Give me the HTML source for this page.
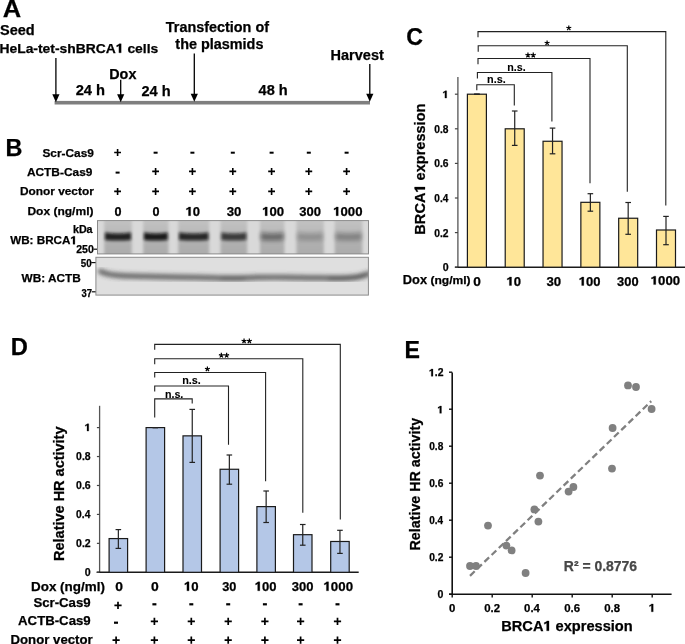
<!DOCTYPE html>
<html><head><meta charset="utf-8"><style>
html,body{margin:0;padding:0;background:#fff;}
body{width:685px;height:644px;overflow:hidden;}
svg{display:block;will-change:transform;font-family:"Liberation Sans",sans-serif;}
text{stroke-width:0.25px;}
</style></head><body>
<svg width="685" height="644" viewBox="0 0 685 644">
<rect width="685" height="644" fill="#fff"/>
<text x="2.86" y="16.80" font-size="24" font-weight="bold" fill="#000" stroke="#000" textLength="18.43" lengthAdjust="spacingAndGlyphs">A</text>
<text x="-0.04" y="35.00" font-size="14" font-weight="bold" fill="#000" stroke="#000" textLength="34.68" lengthAdjust="spacingAndGlyphs">Seed</text>
<text x="-0.60" y="52.80" font-size="13.1" font-weight="bold" fill="#000" stroke="#000" textLength="116.45" lengthAdjust="spacingAndGlyphs">HeLa-tet-shBRCA</text>
<path transform="translate(115.85,52.80) scale(0.00678,-0.00640)" d="M450,0 L785,0 L785,1409 L505,1409 C400,1290 260,1210 120,1165 L120,925 C250,965 360,1030 450,1110 Z" fill="#000" stroke="#000" stroke-width="39.1"/>
<text x="127.42" y="52.80" font-size="13.1" font-weight="bold" fill="#000" stroke="#000" textLength="30.87" lengthAdjust="spacingAndGlyphs">cells</text>
<text x="165.86" y="31.70" font-size="14" font-weight="bold" fill="#000" stroke="#000" textLength="103.11" lengthAdjust="spacingAndGlyphs">Transfection of</text>
<text x="175.36" y="49.00" font-size="14" font-weight="bold" fill="#000" stroke="#000" textLength="88.06" lengthAdjust="spacingAndGlyphs">the plasmids</text>
<text x="330.56" y="60.10" font-size="14" font-weight="bold" fill="#000" stroke="#000" textLength="53.25" lengthAdjust="spacingAndGlyphs">Harvest</text>
<text x="109.27" y="78.70" font-size="14" font-weight="bold" fill="#000" stroke="#000" textLength="27.09" lengthAdjust="spacingAndGlyphs">Dox</text>
<text x="75.69" y="94.80" font-size="14" font-weight="bold" fill="#000" stroke="#000" textLength="29.41" lengthAdjust="spacingAndGlyphs">24 h</text>
<text x="141.49" y="95.50" font-size="14" font-weight="bold" fill="#000" stroke="#000" textLength="29.10" lengthAdjust="spacingAndGlyphs">24 h</text>
<text x="258.58" y="94.90" font-size="14" font-weight="bold" fill="#000" stroke="#000" textLength="29.11" lengthAdjust="spacingAndGlyphs">48 h</text>
<rect x="54.6" y="100.9" width="315.4" height="3.6" fill="#7f7f7f"/>
<line x1="55.90" y1="58.00" x2="55.90" y2="96.30" stroke="#000" stroke-width="1.3"/>
<path d="M52.30,94.30 L59.50,94.30 L55.90,102.30 Z" fill="#000"/>
<line x1="120.70" y1="79.70" x2="120.70" y2="96.30" stroke="#000" stroke-width="1.3"/>
<path d="M117.10,94.30 L124.30,94.30 L120.70,102.30 Z" fill="#000"/>
<line x1="194.30" y1="53.40" x2="194.30" y2="95.80" stroke="#000" stroke-width="1.3"/>
<path d="M190.70,93.80 L197.90,93.80 L194.30,101.80 Z" fill="#000"/>
<line x1="369.80" y1="64.10" x2="369.80" y2="95.80" stroke="#000" stroke-width="1.3"/>
<path d="M366.20,93.80 L373.40,93.80 L369.80,101.80 Z" fill="#000"/>
<text x="5.48" y="156.00" font-size="24" font-weight="bold" fill="#000" stroke="#000" textLength="16.93" lengthAdjust="spacingAndGlyphs">B</text>
<text x="42.44" y="157.00" font-size="11.8" font-weight="bold" fill="#000" stroke="#000" textLength="51.48" lengthAdjust="spacingAndGlyphs">Scr-Cas9</text>
<text x="26.90" y="176.10" font-size="11.8" font-weight="bold" fill="#000" stroke="#000" textLength="65.53" lengthAdjust="spacingAndGlyphs">ACTB-Cas9</text>
<text x="19.93" y="194.90" font-size="11.8" font-weight="bold" fill="#000" stroke="#000" textLength="73.83" lengthAdjust="spacingAndGlyphs">Donor vector</text>
<text x="27.42" y="215.30" font-size="11.8" font-weight="bold" fill="#000" stroke="#000" textLength="66.08" lengthAdjust="spacingAndGlyphs">Dox (ng/ml)</text>
<path d="M114.20,151.70h6.80v1.60h-6.80Z M116.80,149.00h1.60v7.00h-1.60Z" fill="#000"/>
<rect x="153.60" y="151.70" width="4.00" height="2.00" fill="#000"/>
<rect x="190.40" y="151.70" width="4.00" height="2.00" fill="#000"/>
<rect x="230.80" y="151.70" width="4.00" height="2.00" fill="#000"/>
<rect x="269.60" y="151.70" width="4.00" height="2.00" fill="#000"/>
<rect x="306.80" y="151.70" width="4.00" height="2.00" fill="#000"/>
<rect x="344.60" y="151.70" width="4.00" height="2.00" fill="#000"/>
<rect x="115.60" y="171.60" width="4.00" height="2.00" fill="#000"/>
<path d="M152.20,170.60h6.80v1.60h-6.80Z M154.80,167.90h1.60v7.00h-1.60Z" fill="#000"/>
<path d="M189.00,170.60h6.80v1.60h-6.80Z M191.60,167.90h1.60v7.00h-1.60Z" fill="#000"/>
<path d="M229.40,170.60h6.80v1.60h-6.80Z M232.00,167.90h1.60v7.00h-1.60Z" fill="#000"/>
<path d="M268.20,170.60h6.80v1.60h-6.80Z M270.80,167.90h1.60v7.00h-1.60Z" fill="#000"/>
<path d="M305.40,170.60h6.80v1.60h-6.80Z M308.00,167.90h1.60v7.00h-1.60Z" fill="#000"/>
<path d="M343.20,170.60h6.80v1.60h-6.80Z M345.80,167.90h1.60v7.00h-1.60Z" fill="#000"/>
<path d="M114.20,190.60h6.80v1.60h-6.80Z M116.80,187.90h1.60v7.00h-1.60Z" fill="#000"/>
<path d="M152.20,190.60h6.80v1.60h-6.80Z M154.80,187.90h1.60v7.00h-1.60Z" fill="#000"/>
<path d="M189.00,190.60h6.80v1.60h-6.80Z M191.60,187.90h1.60v7.00h-1.60Z" fill="#000"/>
<path d="M229.40,190.60h6.80v1.60h-6.80Z M232.00,187.90h1.60v7.00h-1.60Z" fill="#000"/>
<path d="M268.20,190.60h6.80v1.60h-6.80Z M270.80,187.90h1.60v7.00h-1.60Z" fill="#000"/>
<path d="M305.40,190.60h6.80v1.60h-6.80Z M308.00,187.90h1.60v7.00h-1.60Z" fill="#000"/>
<path d="M343.20,190.60h6.80v1.60h-6.80Z M345.80,187.90h1.60v7.00h-1.60Z" fill="#000"/>
<text x="114.49" y="215.70" font-size="12.6" font-weight="bold" fill="#000" stroke="#000" textLength="7.03" lengthAdjust="spacingAndGlyphs">0</text>
<text x="152.49" y="215.70" font-size="12.6" font-weight="bold" fill="#000" stroke="#000" textLength="7.03" lengthAdjust="spacingAndGlyphs">0</text>
<path transform="translate(185.62,215.70) scale(0.00638,-0.00615)" d="M450,0 L785,0 L785,1409 L505,1409 C400,1290 260,1210 120,1165 L120,925 C250,965 360,1030 450,1110 Z" fill="#000" stroke="#000" stroke-width="40.6"/>
<text x="192.88" y="215.70" font-size="12.6" font-weight="bold" fill="#000" stroke="#000" textLength="7.27" lengthAdjust="spacingAndGlyphs">0</text>
<text x="226.67" y="215.70" font-size="12.6" font-weight="bold" fill="#000" stroke="#000" textLength="14.69" lengthAdjust="spacingAndGlyphs">30</text>
<path transform="translate(262.21,215.70) scale(0.00643,-0.00615)" d="M450,0 L785,0 L785,1409 L505,1409 C400,1290 260,1210 120,1165 L120,925 C250,965 360,1030 450,1110 Z" fill="#000" stroke="#000" stroke-width="40.6"/>
<text x="269.53" y="215.70" font-size="12.6" font-weight="bold" fill="#000" stroke="#000" textLength="14.64" lengthAdjust="spacingAndGlyphs">00</text>
<text x="299.28" y="215.70" font-size="12.6" font-weight="bold" fill="#000" stroke="#000" textLength="21.69" lengthAdjust="spacingAndGlyphs">300</text>
<path transform="translate(333.21,215.70) scale(0.00643,-0.00615)" d="M450,0 L785,0 L785,1409 L505,1409 C400,1290 260,1210 120,1165 L120,925 C250,965 360,1030 450,1110 Z" fill="#000" stroke="#000" stroke-width="40.6"/>
<text x="340.54" y="215.70" font-size="12.6" font-weight="bold" fill="#000" stroke="#000" textLength="21.99" lengthAdjust="spacingAndGlyphs">000</text>
<text x="72.95" y="233.00" font-size="10.0" font-weight="bold" fill="#000" stroke="#000" textLength="19.64" lengthAdjust="spacingAndGlyphs">kDa</text>
<text x="10.20" y="244.30" font-size="11.8" font-weight="bold" fill="#000" stroke="#000" textLength="60.23" lengthAdjust="spacingAndGlyphs">WB: BRCA</text>
<path transform="translate(70.43,244.30) scale(0.00569,-0.00576)" d="M450,0 L785,0 L785,1409 L505,1409 C400,1290 260,1210 120,1165 L120,925 C250,965 360,1030 450,1110 Z" fill="#000" stroke="#000" stroke-width="43.4"/>
<text x="76.23" y="252.80" font-size="10.6" font-weight="bold" fill="#000" stroke="#000" textLength="17.63" lengthAdjust="spacingAndGlyphs">250</text>
<text x="80.71" y="267.40" font-size="10.6" font-weight="bold" fill="#000" stroke="#000" textLength="10.91" lengthAdjust="spacingAndGlyphs">50</text>
<text x="21.60" y="282.00" font-size="11.8" font-weight="bold" fill="#000" stroke="#000" textLength="59.26" lengthAdjust="spacingAndGlyphs">WB: ACTB</text>
<text x="81.56" y="296.50" font-size="10.6" font-weight="bold" fill="#000" stroke="#000" textLength="10.54" lengthAdjust="spacingAndGlyphs">37</text>
<line x1="93.40" y1="249.20" x2="97.50" y2="249.20" stroke="#111" stroke-width="1.2"/>
<line x1="91.20" y1="262.60" x2="96.00" y2="262.60" stroke="#111" stroke-width="1.2"/>
<line x1="91.70" y1="291.80" x2="96.00" y2="291.80" stroke="#111" stroke-width="1.2"/>
<defs>
<filter id="bl1" x="-20%" y="-50%" width="140%" height="200%"><feGaussianBlur stdDeviation="1.4 1.7"/></filter>
<filter id="bl2" x="-20%" y="-50%" width="140%" height="200%"><feGaussianBlur stdDeviation="1.2"/></filter>
<filter id="bl5" x="-30%" y="-80%" width="160%" height="260%"><feGaussianBlur stdDeviation="2.2 2.2"/></filter>
<filter id="bl3" x="-10%" y="-10%" width="120%" height="120%"><feGaussianBlur stdDeviation="1.8"/></filter>
<filter id="bl4" x="-10%" y="-50%" width="120%" height="200%"><feGaussianBlur stdDeviation="2.0 1.9"/></filter>
<linearGradient id="lane" x1="0" y1="0" x2="0" y2="1">
 <stop offset="0" stop-color="#c4c4c4"/><stop offset="0.35" stop-color="#b9b9b9"/><stop offset="0.6" stop-color="#b0b0b0"/><stop offset="1" stop-color="#aaaaaa"/>
</linearGradient>
<clipPath id="cb1"><rect x="97.5" y="220.6" width="271" height="33.3"/></clipPath>
<clipPath id="cb2"><rect x="95.9" y="257.3" width="272.5" height="37.8"/></clipPath>
</defs>
<g clip-path="url(#cb1)">
<rect x="97.5" y="220.6" width="271" height="33.3" fill="#d9d9d9"/>
<g filter="url(#bl3)">
<rect x="104.2" y="218" width="27.6" height="40" fill="url(#lane)"/>
<rect x="143.2" y="218" width="25.3" height="40" fill="url(#lane)"/>
<rect x="178.2" y="218" width="31.0" height="40" fill="url(#lane)"/>
<rect x="220.5" y="218" width="26.7" height="40" fill="url(#lane)"/>
<rect x="260.0" y="218" width="24.4" height="40" fill="url(#lane)"/>
<rect x="296.4" y="218" width="27.4" height="40" fill="url(#lane)"/>
<rect x="334.7" y="218" width="27.7" height="40" fill="url(#lane)"/>
</g>
<path filter="url(#bl1)" d="M105.0,232.4 Q118.0,234.6 131.0,232.4 L131.0,240.0 Q118.0,241.2 105.0,240.0 Z" fill="#0a0a0a" opacity="0.88"/>
<path filter="url(#bl1)" d="M144.0,232.4 Q155.8,234.6 167.7,232.4 L167.7,240.0 Q155.8,241.2 144.0,240.0 Z" fill="#0a0a0a" opacity="0.92"/>
<path filter="url(#bl1)" d="M179.0,232.4 Q193.7,234.6 208.4,232.4 L208.4,240.0 Q193.7,241.2 179.0,240.0 Z" fill="#0a0a0a" opacity="0.84"/>
<path filter="url(#bl1)" d="M221.3,232.4 Q233.8,234.6 246.4,232.4 L246.4,240.0 Q233.8,241.2 221.3,240.0 Z" fill="#0a0a0a" opacity="0.72"/>
<path filter="url(#bl5)" d="M260.8,232.4 Q272.2,234.6 283.6,232.4 L283.6,240.0 Q272.2,241.2 260.8,240.0 Z" fill="#0a0a0a" opacity="0.46"/>
<path filter="url(#bl5)" d="M297.2,232.4 Q310.1,234.6 323.0,232.4 L323.0,240.0 Q310.1,241.2 297.2,240.0 Z" fill="#0a0a0a" opacity="0.22"/>
<path filter="url(#bl5)" d="M335.5,232.4 Q348.5,234.6 361.6,232.4 L361.6,240.0 Q348.5,241.2 335.5,240.0 Z" fill="#0a0a0a" opacity="0.3"/>
</g>
<rect x="97.5" y="220.6" width="271" height="33.3" fill="none" stroke="#8a8a8a" stroke-width="1"/>
<g clip-path="url(#cb2)">
<rect x="95.9" y="257.3" width="272.5" height="37.8" fill="#dfdfdf"/>
<g filter="url(#bl4)">
<path d="M100.5,271.4 C101.58,271.80 104.08,273.13 107,273.8 C109.92,274.47 113.33,275.00 118,275.4 C122.67,275.80 128.83,276.00 135,276.2 C141.17,276.40 147.83,276.43 155,276.6 C162.17,276.77 169.67,277.03 178,277.2 C186.33,277.37 196.00,277.43 205,277.6 C214.00,277.77 223.17,278.23 232,278.2 C240.83,278.17 249.17,277.55 258,277.4 C266.83,277.25 276.00,277.23 285,277.3 C294.00,277.37 302.83,277.65 312,277.8 C321.17,277.95 332.67,278.30 340,278.2 C347.33,278.10 352.17,277.63 356,277.2 C359.83,276.77 360.83,276.20 363,275.6 C365.17,275.00 368.00,273.93 369,273.6" fill="none" stroke="#383838" stroke-width="5.2" stroke-linecap="round" opacity="0.74"/>
<path d="M222,278.2 C223.67,278.23 228.33,278.42 232,278.4 C235.67,278.38 242.00,278.15 244,278.1" fill="none" stroke="#333" stroke-width="3.5" stroke-linecap="round" opacity="0.35"/>
<path d="M330,278.3 C332.00,278.32 337.67,278.57 342,278.4 C346.33,278.23 352.33,277.83 356,277.3 C359.67,276.77 362.67,275.55 364,275.2" fill="none" stroke="#333" stroke-width="3.8" stroke-linecap="round" opacity="0.45"/>
</g>
</g>
<rect x="95.9" y="257.3" width="272.5" height="37.8" fill="none" stroke="#8a8a8a" stroke-width="1"/>
<text x="406.37" y="44.50" font-size="24.5" font-weight="bold" fill="#000" stroke="#000" textLength="16.76" lengthAdjust="spacingAndGlyphs">C</text>
<line x1="457.90" y1="77.00" x2="457.90" y2="267.20" stroke="#555" stroke-width="1.3"/>
<line x1="454.90" y1="267.20" x2="685.00" y2="267.20" stroke="#1a1a1a" stroke-width="1.4"/>
<line x1="454.90" y1="267.20" x2="457.90" y2="267.20" stroke="#444" stroke-width="1.2"/>
<text x="442.74" y="271.10" font-size="10.6" font-weight="bold" fill="#000" stroke="#000" textLength="5.90" lengthAdjust="spacingAndGlyphs">0</text>
<line x1="454.90" y1="232.60" x2="457.90" y2="232.60" stroke="#444" stroke-width="1.2"/>
<text x="434.29" y="236.50" font-size="10.6" font-weight="bold" fill="#000" stroke="#000" textLength="14.33" lengthAdjust="spacingAndGlyphs">0.2</text>
<line x1="454.90" y1="198.00" x2="457.90" y2="198.00" stroke="#444" stroke-width="1.2"/>
<text x="434.30" y="201.90" font-size="10.6" font-weight="bold" fill="#000" stroke="#000" textLength="13.95" lengthAdjust="spacingAndGlyphs">0.4</text>
<line x1="454.90" y1="163.40" x2="457.90" y2="163.40" stroke="#444" stroke-width="1.2"/>
<text x="434.29" y="167.30" font-size="10.6" font-weight="bold" fill="#000" stroke="#000" textLength="14.27" lengthAdjust="spacingAndGlyphs">0.6</text>
<line x1="454.90" y1="128.80" x2="457.90" y2="128.80" stroke="#444" stroke-width="1.2"/>
<text x="434.29" y="132.70" font-size="10.6" font-weight="bold" fill="#000" stroke="#000" textLength="14.22" lengthAdjust="spacingAndGlyphs">0.8</text>
<line x1="454.90" y1="94.20" x2="457.90" y2="94.20" stroke="#444" stroke-width="1.2"/>
<path transform="translate(442.58,98.10) scale(0.00518,-0.00518)" d="M450,0 L785,0 L785,1409 L505,1409 C400,1290 260,1210 120,1165 L120,925 C250,965 360,1030 450,1110 Z" fill="#000" stroke="#000" stroke-width="48.3"/>
<g transform="translate(425.00,233.70) rotate(-90)">
<text x="-0.95" y="0.00" font-size="15.2" font-weight="bold" fill="#000" stroke="#000" textLength="42.05" lengthAdjust="spacingAndGlyphs">BRCA</text>
<path transform="translate(41.11,0.00) scale(0.00711,-0.00742)" d="M450,0 L785,0 L785,1409 L505,1409 C400,1290 260,1210 120,1165 L120,925 C250,965 360,1030 450,1110 Z" fill="#000" stroke="#000" stroke-width="33.7"/>
<text x="53.25" y="0.00" font-size="15.2" font-weight="bold" fill="#000" stroke="#000" textLength="76.87" lengthAdjust="spacingAndGlyphs">expression</text>
</g>
<text x="402.76" y="284.00" font-size="12.5" font-weight="bold" fill="#000" stroke="#000" textLength="24.29" lengthAdjust="spacingAndGlyphs">Dox</text>
<text x="430.40" y="284.00" font-size="11.7" font-weight="bold" fill="#000" stroke="#000" textLength="40.18" lengthAdjust="spacingAndGlyphs">(ng/ml)</text>
<rect x="467.40" y="94.20" width="19.0" height="173.00" fill="#ffe699" stroke="#1a1a1a" stroke-width="1.2"/>
<rect x="505.22" y="128.80" width="19.0" height="138.40" fill="#ffe699" stroke="#1a1a1a" stroke-width="1.2"/>
<rect x="543.04" y="141.26" width="19.0" height="125.94" fill="#ffe699" stroke="#1a1a1a" stroke-width="1.2"/>
<rect x="580.86" y="202.32" width="19.0" height="64.88" fill="#ffe699" stroke="#1a1a1a" stroke-width="1.2"/>
<rect x="618.68" y="218.24" width="19.0" height="48.96" fill="#ffe699" stroke="#1a1a1a" stroke-width="1.2"/>
<rect x="656.50" y="230.00" width="19.0" height="37.19" fill="#ffe699" stroke="#1a1a1a" stroke-width="1.2"/>
<line x1="476.90" y1="94.20" x2="476.90" y2="94.20" stroke="#222" stroke-width="1.2"/>
<line x1="474.10" y1="94.20" x2="479.70" y2="94.20" stroke="#222" stroke-width="1.2"/>
<line x1="474.10" y1="94.20" x2="479.70" y2="94.20" stroke="#222" stroke-width="1.2"/>
<line x1="514.72" y1="111.00" x2="514.72" y2="145.40" stroke="#222" stroke-width="1.2"/>
<line x1="511.92" y1="111.00" x2="517.52" y2="111.00" stroke="#222" stroke-width="1.2"/>
<line x1="511.92" y1="145.40" x2="517.52" y2="145.40" stroke="#222" stroke-width="1.2"/>
<line x1="552.54" y1="128.10" x2="552.54" y2="153.80" stroke="#222" stroke-width="1.2"/>
<line x1="549.74" y1="128.10" x2="555.34" y2="128.10" stroke="#222" stroke-width="1.2"/>
<line x1="549.74" y1="153.80" x2="555.34" y2="153.80" stroke="#222" stroke-width="1.2"/>
<line x1="590.36" y1="193.70" x2="590.36" y2="211.20" stroke="#222" stroke-width="1.2"/>
<line x1="587.56" y1="193.70" x2="593.16" y2="193.70" stroke="#222" stroke-width="1.2"/>
<line x1="587.56" y1="211.20" x2="593.16" y2="211.20" stroke="#222" stroke-width="1.2"/>
<line x1="628.18" y1="202.50" x2="628.18" y2="234.30" stroke="#222" stroke-width="1.2"/>
<line x1="625.38" y1="202.50" x2="630.98" y2="202.50" stroke="#222" stroke-width="1.2"/>
<line x1="625.38" y1="234.30" x2="630.98" y2="234.30" stroke="#222" stroke-width="1.2"/>
<line x1="666.00" y1="216.40" x2="666.00" y2="244.70" stroke="#222" stroke-width="1.2"/>
<line x1="663.20" y1="216.40" x2="668.80" y2="216.40" stroke="#222" stroke-width="1.2"/>
<line x1="663.20" y1="244.70" x2="668.80" y2="244.70" stroke="#222" stroke-width="1.2"/>
<text x="473.25" y="285.50" font-size="12.3" font-weight="bold" fill="#000" stroke="#000" textLength="7.61" lengthAdjust="spacingAndGlyphs">0</text>
<path transform="translate(506.52,285.50) scale(0.00638,-0.00601)" d="M450,0 L785,0 L785,1409 L505,1409 C400,1290 260,1210 120,1165 L120,925 C250,965 360,1030 450,1110 Z" fill="#000" stroke="#000" stroke-width="41.6"/>
<text x="513.78" y="285.50" font-size="12.3" font-weight="bold" fill="#000" stroke="#000" textLength="7.27" lengthAdjust="spacingAndGlyphs">0</text>
<text x="546.47" y="285.50" font-size="12.3" font-weight="bold" fill="#000" stroke="#000" textLength="14.69" lengthAdjust="spacingAndGlyphs">30</text>
<path transform="translate(578.82,285.50) scale(0.00636,-0.00601)" d="M450,0 L785,0 L785,1409 L505,1409 C400,1290 260,1210 120,1165 L120,925 C250,965 360,1030 450,1110 Z" fill="#000" stroke="#000" stroke-width="41.6"/>
<text x="586.07" y="285.50" font-size="12.3" font-weight="bold" fill="#000" stroke="#000" textLength="14.50" lengthAdjust="spacingAndGlyphs">00</text>
<text x="617.08" y="285.50" font-size="12.3" font-weight="bold" fill="#000" stroke="#000" textLength="21.48" lengthAdjust="spacingAndGlyphs">300</text>
<path transform="translate(650.71,284.60) scale(0.00646,-0.00601)" d="M450,0 L785,0 L785,1409 L505,1409 C400,1290 260,1210 120,1165 L120,925 C250,965 360,1030 450,1110 Z" fill="#000" stroke="#000" stroke-width="41.6"/>
<text x="658.06" y="284.60" font-size="12.3" font-weight="bold" fill="#000" stroke="#000" textLength="22.06" lengthAdjust="spacingAndGlyphs">000</text>
<path d="M478.00,37.30 L478.00,31.60 L665.80,31.60 L665.80,205.50" stroke="#222" stroke-width="1.1" fill="none"/>
<path d="M478.20,51.80 L478.20,45.70 L627.30,45.70 L627.30,191.80" stroke="#222" stroke-width="1.1" fill="none"/>
<path d="M478.00,64.20 L478.00,58.50 L590.00,58.50 L590.00,183.20" stroke="#222" stroke-width="1.1" fill="none"/>
<path d="M477.40,78.60 L477.40,72.50 L551.90,72.50 L551.90,121.60" stroke="#222" stroke-width="1.1" fill="none"/>
<path d="M476.80,90.30 L476.80,84.70 L514.30,84.70 L514.30,105.60" stroke="#222" stroke-width="1.1" fill="none"/>
<path d="M568.80,28.00L568.80,25.40M568.80,28.00L571.27,27.20M568.80,28.00L570.33,30.10M568.80,28.00L567.27,30.10M568.80,28.00L566.33,27.20" stroke="#000" stroke-width="1.2" stroke-linecap="butt" fill="none"/>
<path d="M547.10,43.00L547.10,40.40M547.10,43.00L549.57,42.20M547.10,43.00L548.63,45.10M547.10,43.00L545.57,45.10M547.10,43.00L544.63,42.20" stroke="#000" stroke-width="1.2" stroke-linecap="butt" fill="none"/>
<path d="M527.95,55.20L527.95,52.60M527.95,55.20L530.42,54.40M527.95,55.20L529.48,57.30M527.95,55.20L526.42,57.30M527.95,55.20L525.48,54.40" stroke="#000" stroke-width="1.2" stroke-linecap="butt" fill="none"/>
<path d="M533.25,55.20L533.25,52.60M533.25,55.20L535.72,54.40M533.25,55.20L534.78,57.30M533.25,55.20L531.72,57.30M533.25,55.20L530.78,54.40" stroke="#000" stroke-width="1.2" stroke-linecap="butt" fill="none"/>
<text x="507.31" y="71.30" font-size="10.0" font-weight="bold" fill="#000" stroke="#000" textLength="18.42" lengthAdjust="spacingAndGlyphs" style="stroke-width:0.1px">n.s.</text>
<text x="486.99" y="82.70" font-size="10.0" font-weight="bold" fill="#000" stroke="#000" textLength="18.74" lengthAdjust="spacingAndGlyphs" style="stroke-width:0.1px">n.s.</text>
<text x="10.86" y="355.00" font-size="23.5" font-weight="bold" fill="#000" stroke="#000" textLength="17.14" lengthAdjust="spacingAndGlyphs">D</text>
<line x1="99.60" y1="405.80" x2="99.60" y2="572.30" stroke="#555" stroke-width="1.3"/>
<line x1="96.60" y1="572.30" x2="358.70" y2="572.30" stroke="#1a1a1a" stroke-width="1.4"/>
<line x1="96.90" y1="572.30" x2="99.60" y2="572.30" stroke="#444" stroke-width="1.2"/>
<text x="84.84" y="575.80" font-size="10.6" font-weight="bold" fill="#000" stroke="#000" textLength="5.90" lengthAdjust="spacingAndGlyphs">0</text>
<line x1="96.90" y1="543.36" x2="99.60" y2="543.36" stroke="#444" stroke-width="1.2"/>
<text x="76.08" y="546.86" font-size="10.6" font-weight="bold" fill="#000" stroke="#000" textLength="14.64" lengthAdjust="spacingAndGlyphs">0.2</text>
<line x1="96.90" y1="514.42" x2="99.60" y2="514.42" stroke="#444" stroke-width="1.2"/>
<text x="76.09" y="517.92" font-size="10.6" font-weight="bold" fill="#000" stroke="#000" textLength="14.26" lengthAdjust="spacingAndGlyphs">0.4</text>
<line x1="96.90" y1="485.48" x2="99.60" y2="485.48" stroke="#444" stroke-width="1.2"/>
<text x="76.08" y="488.98" font-size="10.6" font-weight="bold" fill="#000" stroke="#000" textLength="14.59" lengthAdjust="spacingAndGlyphs">0.6</text>
<line x1="96.90" y1="456.54" x2="99.60" y2="456.54" stroke="#444" stroke-width="1.2"/>
<text x="76.08" y="460.04" font-size="10.6" font-weight="bold" fill="#000" stroke="#000" textLength="14.53" lengthAdjust="spacingAndGlyphs">0.8</text>
<line x1="96.90" y1="427.60" x2="99.60" y2="427.60" stroke="#444" stroke-width="1.2"/>
<path transform="translate(84.68,431.10) scale(0.00518,-0.00518)" d="M450,0 L785,0 L785,1409 L505,1409 C400,1290 260,1210 120,1165 L120,925 C250,965 360,1030 450,1110 Z" fill="#000" stroke="#000" stroke-width="48.3"/>
<g transform="translate(64.30,560.00) rotate(-90)">
<text x="-0.94" y="0.00" font-size="14.4" font-weight="bold" fill="#000" stroke="#000" textLength="134.44" lengthAdjust="spacingAndGlyphs">Relative HR activity</text>
</g>
<rect x="109.10" y="538.58" width="18.5" height="33.72" fill="#b4c7e7" stroke="#1a1a1a" stroke-width="1.2"/>
<rect x="146.10" y="427.60" width="18.5" height="144.70" fill="#b4c7e7" stroke="#1a1a1a" stroke-width="1.2"/>
<rect x="183.00" y="435.85" width="18.5" height="136.45" fill="#b4c7e7" stroke="#1a1a1a" stroke-width="1.2"/>
<rect x="220.10" y="469.27" width="18.5" height="103.03" fill="#b4c7e7" stroke="#1a1a1a" stroke-width="1.2"/>
<rect x="256.90" y="506.61" width="18.5" height="65.69" fill="#b4c7e7" stroke="#1a1a1a" stroke-width="1.2"/>
<rect x="293.50" y="534.68" width="18.5" height="37.62" fill="#b4c7e7" stroke="#1a1a1a" stroke-width="1.2"/>
<rect x="330.70" y="541.48" width="18.5" height="30.82" fill="#b4c7e7" stroke="#1a1a1a" stroke-width="1.2"/>
<line x1="118.35" y1="529.60" x2="118.35" y2="548.40" stroke="#222" stroke-width="1.2"/>
<line x1="115.55" y1="529.60" x2="121.15" y2="529.60" stroke="#222" stroke-width="1.2"/>
<line x1="115.55" y1="548.40" x2="121.15" y2="548.40" stroke="#222" stroke-width="1.2"/>
<line x1="155.35" y1="427.60" x2="155.35" y2="427.60" stroke="#222" stroke-width="1.2"/>
<line x1="152.55" y1="427.60" x2="158.15" y2="427.60" stroke="#222" stroke-width="1.2"/>
<line x1="152.55" y1="427.60" x2="158.15" y2="427.60" stroke="#222" stroke-width="1.2"/>
<line x1="192.25" y1="409.40" x2="192.25" y2="462.40" stroke="#222" stroke-width="1.2"/>
<line x1="189.45" y1="409.40" x2="195.05" y2="409.40" stroke="#222" stroke-width="1.2"/>
<line x1="189.45" y1="462.40" x2="195.05" y2="462.40" stroke="#222" stroke-width="1.2"/>
<line x1="229.35" y1="455.00" x2="229.35" y2="484.20" stroke="#222" stroke-width="1.2"/>
<line x1="226.55" y1="455.00" x2="232.15" y2="455.00" stroke="#222" stroke-width="1.2"/>
<line x1="226.55" y1="484.20" x2="232.15" y2="484.20" stroke="#222" stroke-width="1.2"/>
<line x1="266.15" y1="491.00" x2="266.15" y2="522.50" stroke="#222" stroke-width="1.2"/>
<line x1="263.35" y1="491.00" x2="268.95" y2="491.00" stroke="#222" stroke-width="1.2"/>
<line x1="263.35" y1="522.50" x2="268.95" y2="522.50" stroke="#222" stroke-width="1.2"/>
<line x1="302.75" y1="524.50" x2="302.75" y2="545.20" stroke="#222" stroke-width="1.2"/>
<line x1="299.95" y1="524.50" x2="305.55" y2="524.50" stroke="#222" stroke-width="1.2"/>
<line x1="299.95" y1="545.20" x2="305.55" y2="545.20" stroke="#222" stroke-width="1.2"/>
<line x1="339.95" y1="530.30" x2="339.95" y2="553.40" stroke="#222" stroke-width="1.2"/>
<line x1="337.15" y1="530.30" x2="342.75" y2="530.30" stroke="#222" stroke-width="1.2"/>
<line x1="337.15" y1="553.40" x2="342.75" y2="553.40" stroke="#222" stroke-width="1.2"/>
<path d="M154.7,349.80 L154.7,344.40 L340.30,344.40 L340.30,519.60" stroke="#222" stroke-width="1.1" fill="none"/>
<path d="M154.7,364.20 L154.7,358.80 L302.80,358.80 L302.80,512.70" stroke="#222" stroke-width="1.1" fill="none"/>
<path d="M154.7,377.60 L154.7,372.50 L265.60,372.50 L265.60,481.20" stroke="#222" stroke-width="1.1" fill="none"/>
<path d="M154.7,391.40 L154.7,386.00 L228.50,386.00 L228.50,444.80" stroke="#222" stroke-width="1.1" fill="none"/>
<path d="M154.7,417.60 L154.7,398.90 L192.20,398.90 L192.20,403.60" stroke="#222" stroke-width="1.1" fill="none"/>
<path d="M244.05,341.10L244.05,338.50M244.05,341.10L246.52,340.30M244.05,341.10L245.58,343.20M244.05,341.10L242.52,343.20M244.05,341.10L241.58,340.30" stroke="#000" stroke-width="1.2" stroke-linecap="butt" fill="none"/>
<path d="M249.35,341.10L249.35,338.50M249.35,341.10L251.82,340.30M249.35,341.10L250.88,343.20M249.35,341.10L247.82,343.20M249.35,341.10L246.88,340.30" stroke="#000" stroke-width="1.2" stroke-linecap="butt" fill="none"/>
<path d="M221.35,355.40L221.35,352.80M221.35,355.40L223.82,354.60M221.35,355.40L222.88,357.50M221.35,355.40L219.82,357.50M221.35,355.40L218.88,354.60" stroke="#000" stroke-width="1.2" stroke-linecap="butt" fill="none"/>
<path d="M226.65,355.40L226.65,352.80M226.65,355.40L229.12,354.60M226.65,355.40L228.18,357.50M226.65,355.40L225.12,357.50M226.65,355.40L224.18,354.60" stroke="#000" stroke-width="1.2" stroke-linecap="butt" fill="none"/>
<path d="M207.40,369.10L207.40,366.50M207.40,369.10L209.87,368.30M207.40,369.10L208.93,371.20M207.40,369.10L205.87,371.20M207.40,369.10L204.93,368.30" stroke="#000" stroke-width="1.2" stroke-linecap="butt" fill="none"/>
<text x="182.20" y="384.00" font-size="10.0" font-weight="bold" fill="#000" stroke="#000" textLength="18.64" lengthAdjust="spacingAndGlyphs" style="stroke-width:0.1px">n.s.</text>
<text x="164.91" y="398.00" font-size="10.0" font-weight="bold" fill="#000" stroke="#000" textLength="18.42" lengthAdjust="spacingAndGlyphs" style="stroke-width:0.1px">n.s.</text>
<text x="115.34" y="590.80" font-size="13" font-weight="bold" fill="#000" stroke="#000" textLength="7.73" lengthAdjust="spacingAndGlyphs">0</text>
<text x="151.04" y="590.80" font-size="13" font-weight="bold" fill="#000" stroke="#000" textLength="7.73" lengthAdjust="spacingAndGlyphs">0</text>
<path transform="translate(184.01,590.80) scale(0.00643,-0.00635)" d="M450,0 L785,0 L785,1409 L505,1409 C400,1290 260,1210 120,1165 L120,925 C250,965 360,1030 450,1110 Z" fill="#000" stroke="#000" stroke-width="39.4"/>
<text x="191.33" y="590.80" font-size="13" font-weight="bold" fill="#000" stroke="#000" textLength="7.32" lengthAdjust="spacingAndGlyphs">0</text>
<text x="222.28" y="590.80" font-size="13" font-weight="bold" fill="#000" stroke="#000" textLength="14.16" lengthAdjust="spacingAndGlyphs">30</text>
<path transform="translate(254.82,590.80) scale(0.00636,-0.00635)" d="M450,0 L785,0 L785,1409 L505,1409 C400,1290 260,1210 120,1165 L120,925 C250,965 360,1030 450,1110 Z" fill="#000" stroke="#000" stroke-width="39.4"/>
<text x="262.07" y="590.80" font-size="13" font-weight="bold" fill="#000" stroke="#000" textLength="14.50" lengthAdjust="spacingAndGlyphs">00</text>
<text x="291.78" y="590.80" font-size="13" font-weight="bold" fill="#000" stroke="#000" textLength="21.69" lengthAdjust="spacingAndGlyphs">300</text>
<path transform="translate(323.50,590.80) scale(0.00648,-0.00635)" d="M450,0 L785,0 L785,1409 L505,1409 C400,1290 260,1210 120,1165 L120,925 C250,965 360,1030 450,1110 Z" fill="#000" stroke="#000" stroke-width="39.4"/>
<text x="330.88" y="590.80" font-size="13" font-weight="bold" fill="#000" stroke="#000" textLength="22.14" lengthAdjust="spacingAndGlyphs">000</text>
<text x="31.03" y="591.00" font-size="13" font-weight="bold" fill="#000" stroke="#000" textLength="73.84" lengthAdjust="spacingAndGlyphs">Dox (ng/ml)</text>
<text x="33.40" y="606.90" font-size="13" font-weight="bold" fill="#000" stroke="#000" textLength="57.27" lengthAdjust="spacingAndGlyphs">Scr-Cas9</text>
<text x="18.07" y="625.20" font-size="13" font-weight="bold" fill="#000" stroke="#000" textLength="72.61" lengthAdjust="spacingAndGlyphs">ACTB-Cas9</text>
<text x="10.54" y="644.00" font-size="13" font-weight="bold" fill="#000" stroke="#000" textLength="82.13" lengthAdjust="spacingAndGlyphs">Donor vector</text>
<path d="M114.40,604.45h7.20v1.70h-7.20Z M117.15,601.70h1.70v7.20h-1.70Z" fill="#000"/>
<rect x="152.40" y="603.20" width="4.00" height="2.20" fill="#000"/>
<rect x="189.30" y="603.20" width="4.00" height="2.20" fill="#000"/>
<rect x="226.20" y="603.20" width="4.00" height="2.20" fill="#000"/>
<rect x="262.90" y="603.20" width="4.00" height="2.20" fill="#000"/>
<rect x="298.60" y="603.20" width="4.00" height="2.20" fill="#000"/>
<rect x="335.50" y="603.20" width="4.00" height="2.20" fill="#000"/>
<rect x="114.00" y="621.60" width="4.00" height="2.20" fill="#000"/>
<path d="M150.80,620.55h7.20v1.70h-7.20Z M153.55,617.80h1.70v7.20h-1.70Z" fill="#000"/>
<path d="M187.70,620.55h7.20v1.70h-7.20Z M190.45,617.80h1.70v7.20h-1.70Z" fill="#000"/>
<path d="M224.60,620.55h7.20v1.70h-7.20Z M227.35,617.80h1.70v7.20h-1.70Z" fill="#000"/>
<path d="M261.30,620.55h7.20v1.70h-7.20Z M264.05,617.80h1.70v7.20h-1.70Z" fill="#000"/>
<path d="M297.00,620.55h7.20v1.70h-7.20Z M299.75,617.80h1.70v7.20h-1.70Z" fill="#000"/>
<path d="M333.90,620.55h7.20v1.70h-7.20Z M336.65,617.80h1.70v7.20h-1.70Z" fill="#000"/>
<path d="M112.50,639.35h7.20v1.70h-7.20Z M115.25,636.60h1.70v7.20h-1.70Z" fill="#000"/>
<path d="M150.80,639.35h7.20v1.70h-7.20Z M153.55,636.60h1.70v7.20h-1.70Z" fill="#000"/>
<path d="M187.70,639.35h7.20v1.70h-7.20Z M190.45,636.60h1.70v7.20h-1.70Z" fill="#000"/>
<path d="M224.60,639.35h7.20v1.70h-7.20Z M227.35,636.60h1.70v7.20h-1.70Z" fill="#000"/>
<path d="M261.30,639.35h7.20v1.70h-7.20Z M264.05,636.60h1.70v7.20h-1.70Z" fill="#000"/>
<path d="M297.00,639.35h7.20v1.70h-7.20Z M299.75,636.60h1.70v7.20h-1.70Z" fill="#000"/>
<path d="M333.90,639.35h7.20v1.70h-7.20Z M336.65,636.60h1.70v7.20h-1.70Z" fill="#000"/>
<text x="404.49" y="358.10" font-size="23.5" font-weight="bold" fill="#000" stroke="#000" textLength="15.47" lengthAdjust="spacingAndGlyphs">E</text>
<line x1="452.20" y1="372.40" x2="452.20" y2="595.00" stroke="#111" stroke-width="1.6"/>
<line x1="449.00" y1="594.20" x2="671.60" y2="594.20" stroke="#111" stroke-width="1.6"/>
<line x1="449.00" y1="594.20" x2="452.20" y2="594.20" stroke="#111" stroke-width="1.4"/>
<text x="437.54" y="598.30" font-size="10.6" font-weight="bold" fill="#000" stroke="#000" textLength="5.90" lengthAdjust="spacingAndGlyphs">0</text>
<line x1="449.00" y1="557.20" x2="452.20" y2="557.20" stroke="#111" stroke-width="1.4"/>
<text x="429.19" y="561.30" font-size="10.6" font-weight="bold" fill="#000" stroke="#000" textLength="14.22" lengthAdjust="spacingAndGlyphs">0.2</text>
<line x1="449.00" y1="520.20" x2="452.20" y2="520.20" stroke="#111" stroke-width="1.4"/>
<text x="429.20" y="524.30" font-size="10.6" font-weight="bold" fill="#000" stroke="#000" textLength="13.85" lengthAdjust="spacingAndGlyphs">0.4</text>
<line x1="449.00" y1="483.20" x2="452.20" y2="483.20" stroke="#111" stroke-width="1.4"/>
<text x="429.19" y="487.30" font-size="10.6" font-weight="bold" fill="#000" stroke="#000" textLength="14.17" lengthAdjust="spacingAndGlyphs">0.6</text>
<line x1="449.00" y1="446.20" x2="452.20" y2="446.20" stroke="#111" stroke-width="1.4"/>
<text x="429.19" y="450.30" font-size="10.6" font-weight="bold" fill="#000" stroke="#000" textLength="14.11" lengthAdjust="spacingAndGlyphs">0.8</text>
<line x1="449.00" y1="409.20" x2="452.20" y2="409.20" stroke="#111" stroke-width="1.4"/>
<path transform="translate(437.38,413.30) scale(0.00518,-0.00518)" d="M450,0 L785,0 L785,1409 L505,1409 C400,1290 260,1210 120,1165 L120,925 C250,965 360,1030 450,1110 Z" fill="#000" stroke="#000" stroke-width="48.3"/>
<line x1="449.00" y1="372.20" x2="452.20" y2="372.20" stroke="#111" stroke-width="1.4"/>
<path transform="translate(428.98,376.30) scale(0.00507,-0.00518)" d="M450,0 L785,0 L785,1409 L505,1409 C400,1290 260,1210 120,1165 L120,925 C250,965 360,1030 450,1110 Z" fill="#000" stroke="#000" stroke-width="48.3"/>
<text x="434.75" y="376.30" font-size="10.6" font-weight="bold" fill="#000" stroke="#000" textLength="8.66" lengthAdjust="spacingAndGlyphs">.2</text>
<line x1="452.20" y1="594.20" x2="452.20" y2="597.40" stroke="#111" stroke-width="1.4"/>
<text x="449.04" y="611.80" font-size="11.4" font-weight="bold" fill="#000" stroke="#000" textLength="6.34" lengthAdjust="spacingAndGlyphs">0</text>
<line x1="492.20" y1="594.20" x2="492.20" y2="597.40" stroke="#111" stroke-width="1.4"/>
<text x="484.28" y="611.80" font-size="11.4" font-weight="bold" fill="#000" stroke="#000" textLength="15.85" lengthAdjust="spacingAndGlyphs">0.2</text>
<line x1="532.20" y1="594.20" x2="532.20" y2="597.40" stroke="#111" stroke-width="1.4"/>
<text x="524.08" y="611.80" font-size="11.4" font-weight="bold" fill="#000" stroke="#000" textLength="15.85" lengthAdjust="spacingAndGlyphs">0.4</text>
<line x1="572.20" y1="594.20" x2="572.20" y2="597.40" stroke="#111" stroke-width="1.4"/>
<text x="564.25" y="611.80" font-size="11.4" font-weight="bold" fill="#000" stroke="#000" textLength="15.85" lengthAdjust="spacingAndGlyphs">0.6</text>
<line x1="612.20" y1="594.20" x2="612.20" y2="597.40" stroke="#111" stroke-width="1.4"/>
<text x="604.22" y="611.80" font-size="11.4" font-weight="bold" fill="#000" stroke="#000" textLength="15.85" lengthAdjust="spacingAndGlyphs">0.8</text>
<line x1="652.20" y1="594.20" x2="652.20" y2="597.40" stroke="#111" stroke-width="1.4"/>
<path transform="translate(648.84,611.80) scale(0.00557,-0.00557)" d="M450,0 L785,0 L785,1409 L505,1409 C400,1290 260,1210 120,1165 L120,925 C250,965 360,1030 450,1110 Z" fill="#000" stroke="#000" stroke-width="44.9"/>
<g transform="translate(420.20,549.60) rotate(-90)">
<text x="-0.93" y="0.00" font-size="14.6" font-weight="bold" fill="#000" stroke="#000" textLength="132.63" lengthAdjust="spacingAndGlyphs">Relative HR activity</text>
</g>
<text x="501.25" y="630.80" font-size="14.4" font-weight="bold" fill="#000" stroke="#000" textLength="42.18" lengthAdjust="spacingAndGlyphs">BRCA</text>
<path transform="translate(543.43,630.80) scale(0.00713,-0.00703)" d="M450,0 L785,0 L785,1409 L505,1409 C400,1290 260,1210 120,1165 L120,925 C250,965 360,1030 450,1110 Z" fill="#000" stroke="#000" stroke-width="35.6"/>
<text x="555.61" y="630.80" font-size="14.4" font-weight="bold" fill="#000" stroke="#000" textLength="77.11" lengthAdjust="spacingAndGlyphs">expression</text>
<line x1="470" y1="575.8" x2="651.2" y2="401.2" stroke="#808080" stroke-width="2.3" stroke-dasharray="6.5 3.5"/>
<circle cx="470" cy="566" r="3.9" fill="#808080"/>
<circle cx="476" cy="566" r="3.9" fill="#808080"/>
<circle cx="506.4" cy="545.6" r="3.9" fill="#808080"/>
<circle cx="511.6" cy="550.4" r="3.9" fill="#808080"/>
<circle cx="525.6" cy="573" r="3.9" fill="#808080"/>
<circle cx="488" cy="525.6" r="3.9" fill="#808080"/>
<circle cx="534.4" cy="509.4" r="3.9" fill="#808080"/>
<circle cx="538.4" cy="521.6" r="3.9" fill="#808080"/>
<circle cx="540" cy="475.6" r="3.9" fill="#808080"/>
<circle cx="568.6" cy="491.6" r="3.9" fill="#808080"/>
<circle cx="573.4" cy="487" r="3.9" fill="#808080"/>
<circle cx="612" cy="468.6" r="3.9" fill="#808080"/>
<circle cx="612.6" cy="428" r="3.9" fill="#808080"/>
<circle cx="628" cy="385.4" r="3.9" fill="#808080"/>
<circle cx="636" cy="387" r="3.9" fill="#808080"/>
<circle cx="651.6" cy="409" r="3.9" fill="#808080"/>
<text x="563.89" y="571.00" font-size="13.8" font-weight="bold" fill="#474747" stroke="#474747" textLength="73.24" lengthAdjust="spacingAndGlyphs">R² = 0.8776</text>
</svg>
</body></html>
